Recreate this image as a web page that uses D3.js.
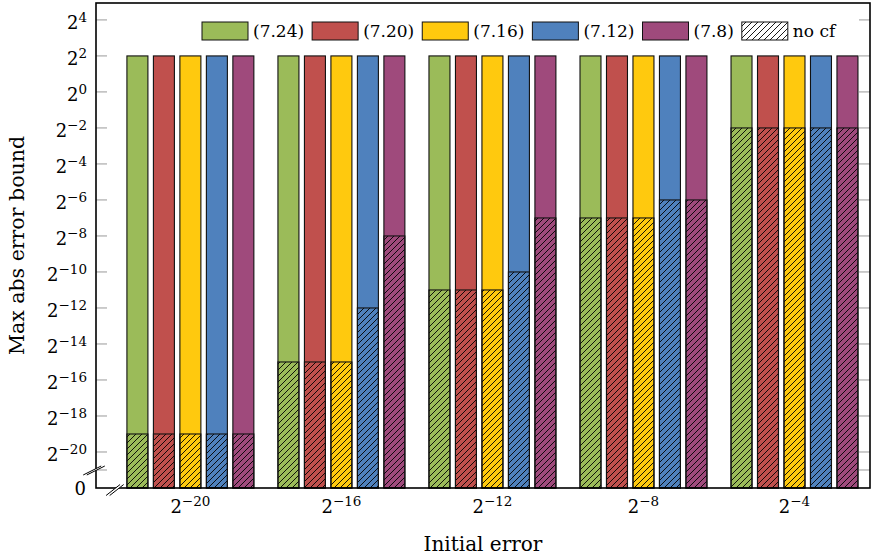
<!DOCTYPE html>
<html>
<head>
<meta charset="utf-8">
<script src="https://cdn.jsdelivr.net/npm/d3@7"></script>
<style>
  html, body { margin: 0; padding: 0; background: #fff; }
  svg { display: block; font-family: "DejaVu Serif", serif; }
</style>
</head>
<body>
<svg id="chart" width="874" height="557"></svg>
<script>
// ---- data ----
const groupExps = [-20, -16, -12, -8, -4];          // initial error = 2^exp
const seriesNames = ["(7.24)", "(7.20)", "(7.16)", "(7.12)", "(7.8)"];
const withCf724 = [4, 4, 4, 4, 4];
const withCf720 = [4, 4, 4, 4, 4];
const withCf716 = [4, 4, 4, 4, 4];
const withCf712 = [4, 4, 4, 4, 4];
const withCf78  = [4, 4, 4, 4, 4];
const noCf724 = [2 ** -19, 2 ** -15, 2 ** -11, 2 ** -7, 2 ** -2];
const noCf720 = [2 ** -19, 2 ** -15, 2 ** -11, 2 ** -7, 2 ** -2];
const noCf716 = [2 ** -19, 2 ** -15, 2 ** -11, 2 ** -7, 2 ** -2];
const noCf712 = [2 ** -19, 2 ** -12, 2 ** -10, 2 ** -6, 2 ** -2];
const noCf78  = [2 ** -19, 2 ** -8,  2 ** -7,  2 ** -6, 2 ** -2];
const yTickExps = [4, 2, 0, -2, -4, -6, -8, -10, -12, -14, -16, -18, -20];
const yExtraTickExp = -21;
const xLabel = "Initial error";
const yLabel = "Max abs error bound";
const legendHatchLabel = "no cf";

const withCf = [withCf724, withCf720, withCf716, withCf712, withCf78];
const noCf = [noCf724, noCf720, noCf716, noCf712, noCf78];
const colors = ["#9BBB59", "#C0504D", "#FFC90E", "#4F81BD", "#9F4A7C"];

// ---- layout ----
const pL = 96, pR = 870, pT = 3, pB = 488;
const svg = d3.select("#chart");

const x = d3.scaleLinear().domain([-22.5, -2]).range([pL, pR]);
const y = d3.scaleLog().base(2).domain([2 ** -22, 2 ** 4.94]).range([pB, pT]);
const yv = v => (v <= 0 ? pB : y(v));

const barStep = 0.7015, barW = 0.556;

// hatch pattern
const defs = svg.append("defs");
const pat = defs.append("pattern").attr("id", "hatch")
  .attr("patternUnits", "userSpaceOnUse").attr("width", 6).attr("height", 6);
pat.append("path").attr("d", "M-1,1 l2,-2 M0,6 l6,-6 M5,7 l2,-2")
  .attr("stroke", "#000").attr("stroke-width", 0.9);

// ticks (inward, gray) left and right
const tickExps = yTickExps.concat([yExtraTickExp]);
const tg = svg.append("g");
tickExps.forEach(e => {
  const yy = y(2 ** e);
  tg.append("line").attr("x1", pL).attr("x2", pL + 11).attr("y1", yy).attr("y2", yy)
    .attr("stroke", "#999").attr("stroke-width", 1);
  tg.append("line").attr("x1", pR - 11).attr("x2", pR).attr("y1", yy).attr("y2", yy)
    .attr("stroke", "#999").attr("stroke-width", 1);
});

// bars
const bg = svg.append("g");
groupExps.forEach((ge, gi) => {
  seriesNames.forEach((s, si) => {
    const cx = ge + (si - 2) * barStep;
    const x0 = x(cx - barW / 2), w = x(cx + barW / 2) - x0;
    const yTop = yv(withCf[si][gi]);
    bg.append("rect").attr("x", x0).attr("y", yTop).attr("width", w).attr("height", pB - yTop)
      .attr("fill", colors[si]).attr("stroke", "#111").attr("stroke-width", 1.1);
    const yH = yv(noCf[si][gi]);
    bg.append("rect").attr("x", x0).attr("y", yH).attr("width", w).attr("height", pB - yH)
      .attr("fill", "url(#hatch)").attr("stroke", "#111").attr("stroke-width", 1.1);
  });
});

// frame
svg.append("rect").attr("x", pL).attr("y", pT).attr("width", pR - pL).attr("height", pB - pT)
  .attr("fill", "none").attr("stroke", "#000").attr("stroke-width", 1.6);

// axis break marks
function breakMark(cx, cy, dx, dy, off) {
  const g = svg.append("g");
  g.append("polygon")
    .attr("points", [[cx - dx - off, cy + dy], [cx + dx - off, cy - dy], [cx + dx + off, cy - dy], [cx - dx + off, cy + dy]].map(p => p.join(",")).join(" "))
    .attr("fill", "#fff");
  [-off, off].forEach(o => {
    g.append("line").attr("x1", cx - dx + o).attr("y1", cy + dy).attr("x2", cx + dx + o).attr("y2", cy - dy)
      .attr("stroke", "#000").attr("stroke-width", 1);
  });
}
breakMark(pL - 2, y(2 ** yExtraTickExp) + 0.5, 9, 4.5, 1.8);
breakMark(x(-22.5 + 0.5), pB + 2, 7, 5.5, 1.8);

// y tick labels
const yl = svg.append("g").attr("font-size", 18).attr("fill", "#000");
yTickExps.forEach(e => {
  const t = yl.append("text").attr("x", 87).attr("y", y(2 ** e) + 9.5).attr("text-anchor", "end");
  t.append("tspan").text("2");
  t.append("tspan").attr("font-size", 13.5).attr("dy", -7.5).text(e < 0 ? "\u2212" + (-e) : String(e));
});
yl.append("text").attr("x", 86).attr("y", pB + 6.5).attr("text-anchor", "end").text("0");

// x tick labels
const xl = svg.append("g").attr("font-size", 18).attr("fill", "#000");
groupExps.forEach(e => {
  const t = xl.append("text").attr("x", x(e)).attr("y", 513).attr("text-anchor", "middle");
  t.append("tspan").text("2");
  t.append("tspan").attr("font-size", 13.5).attr("dy", -7.5).text(e < 0 ? "\u2212" + (-e) : String(e));
});

// axis titles
svg.append("text").attr("x", (pL + pR) / 2).attr("y", 551).attr("text-anchor", "middle")
  .attr("font-size", 20).text(xLabel);
svg.append("text").attr("transform", `translate(24,${(pT + pB) / 2}) rotate(-90)`)
  .attr("text-anchor", "middle").attr("font-size", 20.5).text(yLabel);

// legend
const lg = svg.append("g").attr("font-size", 17);
let lx = 202;
const items = seriesNames.map((n, i) => ({ name: n, fill: colors[i] }))
  .concat([{ name: legendHatchLabel, fill: "url(#hatch)" }]);
items.forEach(it => {
  if (it.fill.startsWith("url")) {
    lg.append("rect").attr("x", lx).attr("y", 22).attr("width", 46).attr("height", 18).attr("fill", "#fff");
  }
  lg.append("rect").attr("x", lx).attr("y", 22).attr("width", 46).attr("height", 18)
    .attr("fill", it.fill).attr("stroke", "#111").attr("stroke-width", 1);
  const t = lg.append("text").attr("x", lx + 51).attr("y", 37).text(it.name);
  lx += 51 + t.node().getComputedTextLength() + 8;
});
</script>
</body>
</html>
